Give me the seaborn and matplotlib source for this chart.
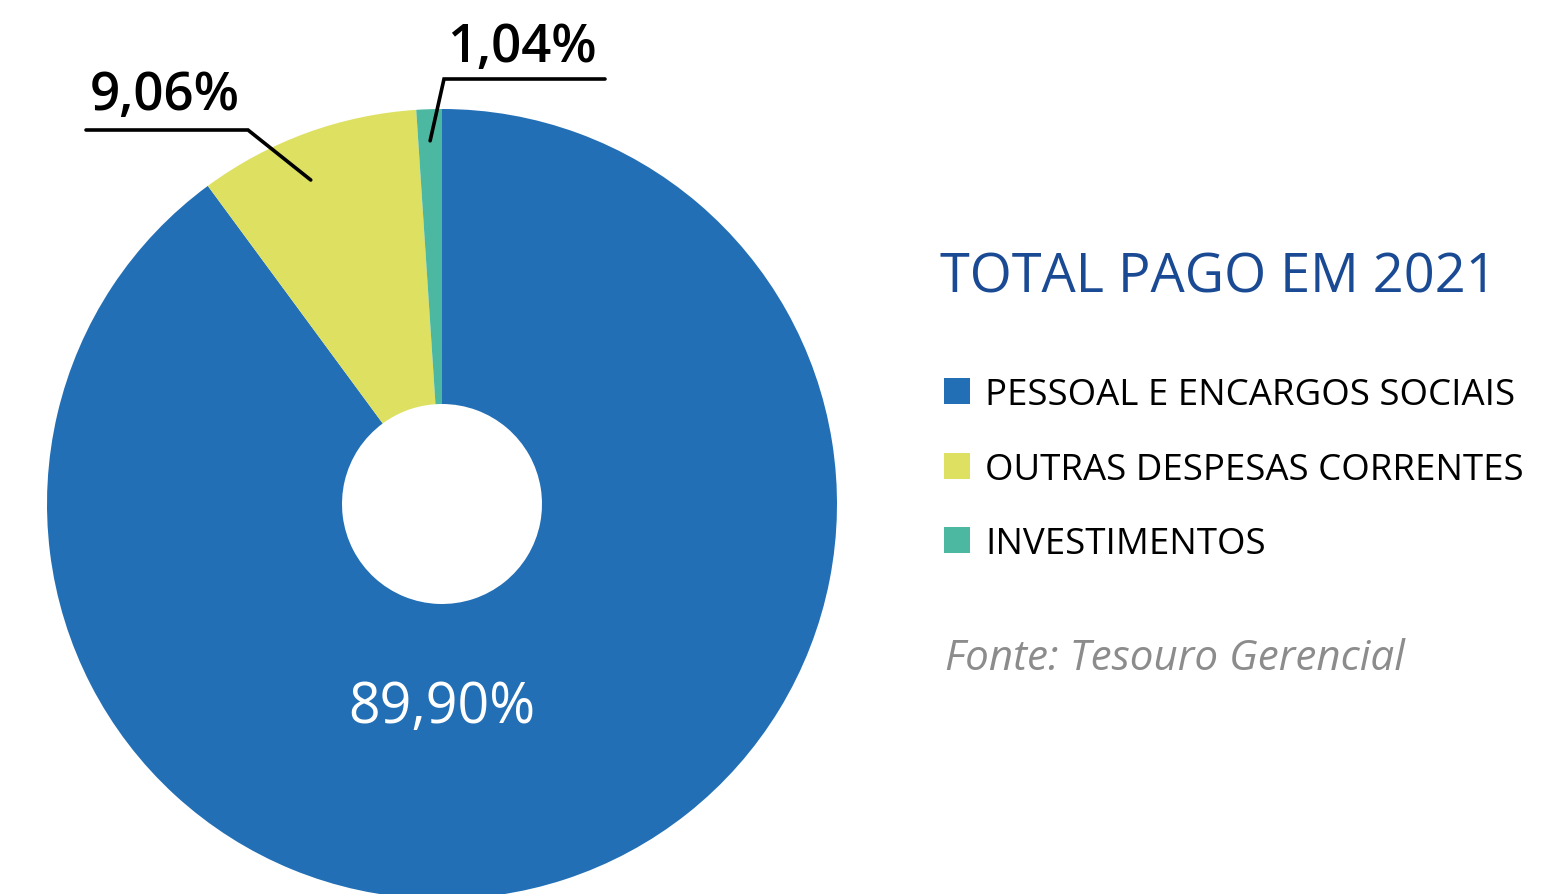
import numpy as np
import matplotlib
matplotlib.use("Agg")
import matplotlib.pyplot as plt
import seaborn as sns

categorias = ["PESSOAL E ENCARGOS SOCIAIS", "OUTRAS DESPESAS CORRENTES", "INVESTIMENTOS"]
percentuais = [89.90, 9.06, 1.04]
rotulos = ["89,90%", "9,06%", "1,04%"]
cores = ["#226FB6", "#DEE062", "#4DB8A2"]

sns.set_style("white")
plt.rcParams["font.family"] = ["Open Sans", "DejaVu Sans"]
plt.rcParams["text.color"] = "black"

W, H = 1547, 895
fig = plt.figure(figsize=(W / 100, H / 100), dpi=100)

# donut: centre (442, 505) px, radius 395 px
cx, cy, R = 442, 505, 395
ax = fig.add_axes([(cx - R) / W, (H - cy - R) / H, 2 * R / W, 2 * R / H])
wedges, _ = ax.pie(percentuais, colors=cores, startangle=90, counterclock=False,
                   radius=1, wedgeprops=dict(width=1 - 100 / R, linewidth=0))
ax.set_xlim(-1, 1)
ax.set_ylim(-1, 1)
ax.set_aspect("equal")
ax.axis("off")

# main label inside the blue wedge
ax.text(0, -0.515, rotulos[0], color="white", fontsize=40, ha="center", va="center")


def px(x, y):
    return (x - cx) / R, (cy - y) / R


def ancora(w, r, desvio=0):
    ang = np.deg2rad((w.theta1 + w.theta2) / 2 + desvio)
    return r * np.cos(ang), r * np.sin(ang)


lw = 2.6
# 9,06%
ax_, ay_ = ancora(wedges[1], 0.885, 2)
e1 = px(248, 131)
s1 = px(86, 131)
ax.plot([s1[0], e1[0], ax_], [s1[1], e1[1], ay_], color="black", lw=lw,
        clip_on=False, solid_capstyle="round", solid_joinstyle="miter")
t1 = px(90, 110)
ax.text(t1[0], t1[1], rotulos[1], fontsize=38, fontweight="semibold",
        ha="left", va="baseline")
# 1,04%
bx_, by_ = ancora(wedges[2], 0.92)
e2 = px(444, 80)
s2 = px(605, 80)
ax.plot([s2[0], e2[0], bx_], [s2[1], e2[1], by_], color="black", lw=lw,
        clip_on=False, solid_capstyle="round", solid_joinstyle="miter")
t2 = px(447, 62)
ax.text(t2[0], t2[1], rotulos[2], fontsize=38, fontweight="semibold",
        ha="left", va="baseline")

# right-hand block
fig.text(940 / W, 1 - 293 / H, "TOTAL PAGO EM 2021", color="#1B4A94",
         fontsize=39, ha="left", va="baseline")

leg = fig.legend(wedges, categorias, loc="upper left",
                 bbox_to_anchor=(944 / W, 1 - 378 / H), frameon=False,
                 fontsize=26.4, handlelength=0.71, handleheight=0.71,
                 handletextpad=0.42, labelspacing=1.05, borderpad=0,
                 borderaxespad=0)
for t in leg.get_texts():
    t.set_color("black")

fig.text(945 / W, 1 - 670 / H, "Fonte: Tesouro Gerencial", color="#8C8C8C",
         fontsize=30.3, style="italic", ha="left", va="baseline")

fig.savefig("out.png", dpi=100, facecolor="white")
